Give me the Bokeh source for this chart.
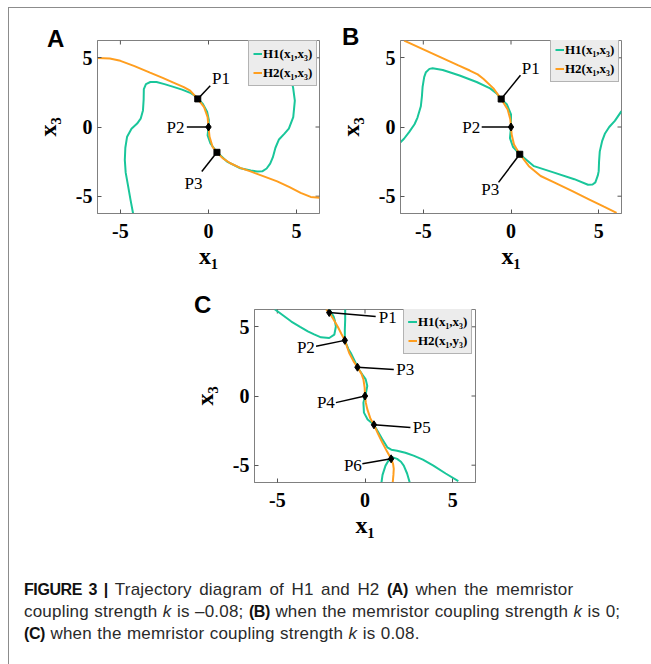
import math
from bokeh.plotting import figure
from bokeh.models import Range1d, FixedTicker, Spacer, Div
from bokeh.layouts import row, column
from bokeh.core.properties import value
from bokeh.embed import file_html
from bokeh.resources import INLINE

GREEN = "#19c69a"
ORANGE = "#ff9e1f"
FRAME = "#808080"
TICKCOL = "#555555"
TICKS = [-5, 0, 5]
TICK_LABELS = {-5: "-5", 0: "0", 5: "5"}
X_LIM = (-6.3, 6.3)
Y_LIM = (-6.25, 6.25)

# ---------------- Panel A (k = -0.08) ----------------
A_h1_x = [-4.28, -4.42, -4.56, -4.70, -4.75, -4.72, -4.62, -4.37, -4.05, -3.85, -3.72, -3.68, -3.67, -3.55,
          -3.30, -2.95, -2.50, -1.99, -1.50, -1.00, -0.67, -0.32, -0.08, 0.02, 0.00, -0.05, 0.11, 0.48,
          1.05, 1.81, 2.40, 2.76, 3.05, 3.30, 3.50, 3.65, 3.80, 4.00, 4.30, 4.56, 4.81, 4.90, 4.80, 4.66,
          4.45, 4.25, 4.09]
A_h1_y = [-6.25, -5.30, -4.29, -3.30, -2.38, -1.50, -0.70, -0.12, 0.25, 0.60, 1.20, 2.00, 2.74, 3.10,
          3.25, 3.25, 3.10, 2.90, 2.70, 2.45, 2.17, 1.67, 1.10, 0.50, 0.00, -0.60, -1.19, -1.83,
          -2.50, -2.98, -3.15, -3.21, -3.20, -3.00, -2.65, -2.20, -1.50, -0.90, -0.50, -0.12, 0.71, 1.90,
          2.86, 3.60, 4.50, 5.40, 6.25]
A_h2_x = [-6.30, -5.60, -5.00, -4.20, -3.32, -2.60, -1.99, -1.40, -1.04, -0.61, -0.25, -0.05, 0.00, 0.06,
          0.23, 0.48, 0.80, 1.24, 1.80, 2.38, 3.10, 3.90, 4.60, 5.23, 5.80, 6.30]
A_h2_y = [4.98, 4.95, 4.78, 4.40, 3.93, 3.55, 3.21, 2.88, 2.62, 2.03, 1.43, 0.71, 0.00, -0.71,
          -1.43, -1.83, -2.25, -2.62, -2.95, -3.21, -3.55, -3.93, -4.35, -4.76, -5.05, -5.12]
A_sq_x = [-0.61, 0.48]
A_sq_y = [2.03, -1.83]
A_dia_x = [0.0]
A_dia_y = [0.0]
A_pt_x = [-0.61, 0.0, 0.48]
A_pt_y = [2.03, 0.0, -1.83]
A_lead_x = [0.10, -1.23, -0.38]
A_lead_y = [2.98, 0.00, -3.21]
A_lbl_text = ["P1", "P2", "P3"]
A_lbl_x = [0.20, -1.36, -0.34]
A_lbl_y = [3.50, 0.00, -4.10]
A_lbl_align = ["left", "right", "right"]

# ---------------- Panel B (k = 0) ----------------
B_h1_x = [-6.30, -6.10, -5.81, -5.50, -5.33, -5.14, -5.08, -5.04, -4.95, -4.85, -4.65, -4.47, -3.89, -2.93,
          -1.96, -1.19, -0.80, -0.56, -0.23, 0.00, 0.00, -0.06, 0.12, 0.50, 1.31, 2.46, 3.61, 4.39,
          4.65, 4.81, 4.95, 5.00, 5.02, 5.06, 5.20, 5.35, 5.60, 5.92, 6.30]
B_h1_y = [-1.10, -0.85, -0.37, 0.20, 0.68, 1.50, 2.20, 2.90, 3.60, 3.96, 4.20, 4.24, 4.12, 3.72,
          3.25, 2.79, 2.40, 2.02, 1.62, 0.91, 0.00, -0.80, -1.45, -1.97, -2.83, -3.30, -3.77, -4.17,
          -4.15, -4.00, -3.50, -3.19, -2.50, -1.78, -1.00, -0.49, 0.00, 0.44, 1.15]
B_h2_x = [-6.09, -5.00, -4.00, -3.00, -2.35, -1.90, -1.58, -1.00, -0.56, -0.19, -0.04, 0.00, 0.04, 0.17,
          0.50, 1.02, 1.69, 2.46, 3.50, 4.50, 5.30, 6.02]
B_h2_y = [6.24, 5.61, 5.03, 4.45, 4.08, 3.80, 3.49, 2.79, 2.02, 1.26, 0.56, 0.00, -0.56, -1.26,
          -1.97, -2.83, -3.54, -4.00, -4.64, -5.26, -5.76, -6.20]
B_sq_x = [-0.56, 0.50]
B_sq_y = [2.02, -1.97]
B_dia_x = [0.0]
B_dia_y = [0.0]
B_pt_x = [-0.56, 0.0, 0.50]
B_pt_y = [2.02, 0.0, -1.97]
B_lead_x = [0.54, -1.67, -0.71]
B_lead_y = [3.74, 0.00, -4.00]
B_lbl_text = ["P1", "P2", "P3"]
B_lbl_x = [0.62, -1.76, -0.67]
B_lbl_y = [4.25, 0.00, -4.53]
B_lbl_align = ["left", "right", "right"]

# ---------------- Panel C (k = 0.08) ----------------
C_h1a_x = [-5.15, -4.70, -4.20, -3.70, -3.26, -2.90, -2.51, -2.04, -1.75, -1.66, -1.72, -1.79, -2.04]
C_h1a_y = [6.27, 5.85, 5.38, 5.00, 4.67, 4.45, 4.24, 4.19, 4.43, 5.02, 5.45, 5.74, 6.27]
C_h1b_x = [-1.13, -1.13, -1.15, -1.15, -0.95, -0.81, -0.50, -0.43, -0.15, 0.04, 0.13, 0.05, 0.00, -0.09,
           -0.06, 0.15, 0.51, 0.75, 0.98, 1.27, 1.50, 1.83, 2.30, 2.77, 3.30, 3.90, 4.60, 5.32]
C_h1b_y = [6.27, 5.50, 4.79, 4.02, 3.40, 3.11, 2.30, 2.08, 1.55, 1.20, 0.72, 0.20, 0.00, -0.48,
           -1.20, -1.70, -2.08, -2.60, -3.11, -3.71, -3.88, -3.95, -4.10, -4.31, -4.60, -5.03, -5.60, -6.15]
C_h1c_x = [0.94, 1.00, 1.17, 1.35, 1.55, 1.83, 2.05, 2.21, 2.40, 2.55]
C_h1c_y = [-6.25, -5.70, -5.03, -4.65, -4.42, -4.54, -4.75, -5.03, -5.60, -6.25]
C_h2_x = [-2.22, -2.04, -1.80, -1.56, -1.35, -1.15, -0.90, -0.65, -0.43, -0.20, -0.09, -0.02, 0.00, 0.05,
          0.13, 0.30, 0.51, 0.75, 0.98, 1.25, 1.49, 1.60, 1.64, 1.62, 1.58]
C_h2_y = [6.27, 6.03, 5.55, 5.02, 4.50, 4.02, 3.11, 2.50, 2.08, 1.60, 1.20, 0.60, 0.00, -0.50,
          -0.95, -1.60, -2.08, -2.75, -3.35, -4.00, -4.54, -4.90, -5.26, -5.70, -6.25]
C_dia_x = [-2.04, -1.15, -0.43, 0.00, 0.51, 1.49]
C_dia_y = [6.03, 4.02, 2.08, 0.00, -2.08, -4.54]
C_lead_x = [0.61, -2.79, 1.64, -1.66, 2.59, -0.15]
C_lead_y = [5.74, 3.59, 1.92, -0.48, -2.27, -4.90]
C_lbl_text = ["P1", "P2", "P3", "P4", "P5", "P6"]
C_lbl_x = [0.78, -2.86, 1.78, -1.72, 2.72, -0.18]
C_lbl_y = [5.69, 3.53, 1.92, -0.48, -2.27, -5.00]
C_lbl_align = ["left", "right", "left", "right", "left", "right"]


def make_panel(width, height, bl, br, bt, bb):
    p = figure(width=width, height=height, x_range=Range1d(*X_LIM), y_range=Range1d(*Y_LIM),
               output_backend="svg", toolbar_location=None,
               min_border_left=bl, min_border_right=br, min_border_top=bt, min_border_bottom=bb,
               background_fill_color="white", border_fill_color="white", outline_line_color=FRAME)
    p.grid.visible = False
    for ax in (p.xaxis[0], p.yaxis[0]):
        ax.ticker = FixedTicker(ticks=TICKS)
        ax.major_label_overrides = TICK_LABELS
        ax.major_label_text_font = "Liberation Serif"
        ax.major_label_text_font_style = "bold"
        ax.major_label_text_font_size = "20px"
        ax.major_label_text_color = "black"
        ax.major_tick_in = 4
        ax.major_tick_out = 0
        ax.minor_tick_line_color = None
        ax.axis_line_color = FRAME
        ax.major_tick_line_color = TICKCOL
        ax.axis_label_text_font = "Liberation Serif"
        ax.axis_label_text_font_style = "bold"
        ax.axis_label_text_font_size = "24px"
        ax.axis_label_text_color = "black"
    p.xaxis.axis_label = "x\u2081"
    p.yaxis.axis_label = "x\u2083"
    p.xaxis.major_label_standoff = 10
    p.yaxis.major_label_standoff = 5
    p.xaxis.axis_label_standoff = 2
    p.yaxis.axis_label_standoff = 12
    # inward ticks on the top and right edges of the box (half of each dash is clipped by the frame)
    p.scatter(TICKS, [Y_LIM[1]] * len(TICKS), marker="dash", angle=math.pi / 2, size=8,
              line_color=TICKCOL, line_width=1)
    p.scatter([X_LIM[1]] * len(TICKS), TICKS, marker="dash", size=8, line_color=TICKCOL, line_width=1)
    return p


def finish_legend(p, loc):
    lg = p.legend[0]
    lg.location = loc
    lg.label_text_font = "Liberation Serif"
    lg.label_text_font_style = "bold"
    lg.label_text_font_size = "13px"
    lg.label_text_color = "black"
    lg.glyph_width = 9
    lg.glyph_height = 17
    lg.label_height = 17
    lg.label_standoff = 1
    lg.spacing = 2
    lg.padding = 4
    lg.margin = 0
    lg.background_fill_color = "#ececec"
    lg.background_fill_alpha = 1.0
    lg.border_line_color = "#7a7a7a"
    lg.border_line_width = 1


def add_labels(p, lx, ly, texts, aligns):
    for al in ("left", "right"):
        xs = [x for x, a in zip(lx, aligns) if a == al]
        ys = [y for y, a in zip(ly, aligns) if a == al]
        ts = [t for t, a in zip(texts, aligns) if a == al]
        if xs:
            p.text(xs, ys, text=ts, text_font=value("Liberation Serif"), text_font_size="17px",
                   text_align=al, text_baseline="middle", text_color="black")


# Panel A
pA = make_panel(321, 277, 88, 11, 32, 72)
pA.line(A_h1_x, A_h1_y, line_color=GREEN, line_width=2, legend_label="H1(x\u2081,x\u2083)")
pA.line(A_h2_x, A_h2_y, line_color=ORANGE, line_width=2, legend_label="H2(x\u2081,x\u2083)")
pA.segment(A_pt_x, A_pt_y, A_lead_x, A_lead_y, line_color="black", line_width=1.5)
pA.scatter(A_sq_x, A_sq_y, marker="square", size=6, color="black")
pA.scatter(A_dia_x, A_dia_y, marker="diamond", size=8, color="black")
add_labels(pA, A_lbl_x, A_lbl_y, A_lbl_text, A_lbl_align)
finish_legend(pA, (151, 127))

# Panel B
pB = make_panel(321, 277, 70, 30, 31, 69)
pB.line(B_h1_x, B_h1_y, line_color=GREEN, line_width=2, legend_label="H1(x\u2081,x\u2083)")
pB.line(B_h2_x, B_h2_y, line_color=ORANGE, line_width=2, legend_label="H2(x\u2081,x\u2083)")
pB.segment(B_pt_x, B_pt_y, B_lead_x, B_lead_y, line_color="black", line_width=1.5)
pB.scatter(B_sq_x, B_sq_y, marker="square", size=6, color="black")
pB.scatter(B_dia_x, B_dia_y, marker="diamond", size=8, color="black")
add_labels(pB, B_lbl_x, B_lbl_y, B_lbl_text, B_lbl_align)
finish_legend(pB, (150, 131))

# Panel C
pC = make_panel(340, 275, 74, 45, 24, 78)
pC.line(C_h1a_x, C_h1a_y, line_color=GREEN, line_width=2, legend_label="H1(x\u2081,x\u2083)")
pC.line(C_h1b_x, C_h1b_y, line_color=GREEN, line_width=2, legend_label="H1(x\u2081,x\u2083)")
pC.line(C_h1c_x, C_h1c_y, line_color=GREEN, line_width=2, legend_label="H1(x\u2081,x\u2083)")
pC.line(C_h2_x, C_h2_y, line_color=ORANGE, line_width=2, legend_label="H2(x\u2081,y\u2083)")
pC.segment(C_dia_x, C_dia_y, C_lead_x, C_lead_y, line_color="black", line_width=1.5)
pC.scatter(C_dia_x, C_dia_y, marker="diamond", size=8, color="black")
add_labels(pC, C_lbl_x, C_lbl_y, C_lbl_text, C_lbl_align)
finish_legend(pC, (149, 128))

BOLD = 'style="color:#111;font-size:16px;letter-spacing:-0.4px"'
caption_html = (
    '<div style="font-family:\'Liberation Sans\',Arial,sans-serif;font-size:17px;line-height:22px;'
    'letter-spacing:0.2px;word-spacing:0.5px;'
    'color:#2a2a2a;white-space:nowrap;padding:19px 0 0 15px;">'
    '<span style="word-spacing:2.5px"><b %s>FIGURE 3 |</b> Trajectory diagram of H1 and H2 '
    '<b %s>(A)</b> when the memristor</span><br>'
    'coupling strength <i>k</i> is \u20130.08; <b %s>(B)</b> '
    'when the memristor coupling strength <i>k</i> is 0;<br>'
    '<b %s>(C)</b> when the memristor coupling strength <i>k</i> is 0.08.'
    '</div>'
) % (BOLD, BOLD, BOLD, BOLD)
caption = Div(text=caption_html, width=642, height=104, margin=0)


def letter_div(ch, left, top):
    html = ('<div style="font-family:\'Liberation Sans\',Arial,sans-serif;font-weight:bold;'
            'font-size:24px;line-height:24px;color:#000;">%s</div>' % ch)
    return Div(text=html, width=24, height=24, margin=0,
               styles={"position": "absolute", "left": "%dpx" % left, "top": "%dpx" % top, "z-index": "5"})


vline = Spacer(width=1, height=657, margin=0, styles={"background-color": "#8c8c8c"})
hline = Spacer(width=642, height=1, margin=0, styles={"background-color": "#8c8c8c"})

inner = column(hline, row(pA, pB, spacing=0), row(Spacer(width=171, height=275, margin=0), pC, spacing=0),
               caption, spacing=0)
root = row(Spacer(width=8, height=664, margin=0),
           column(Spacer(width=643, height=7, margin=0), row(vline, inner, spacing=0), spacing=0),
           letter_div("A", 47, 27), letter_div("B", 342, 25), letter_div("C", 194, 293),
           spacing=0)

open("out.html", "w").write(file_html(root, INLINE))
